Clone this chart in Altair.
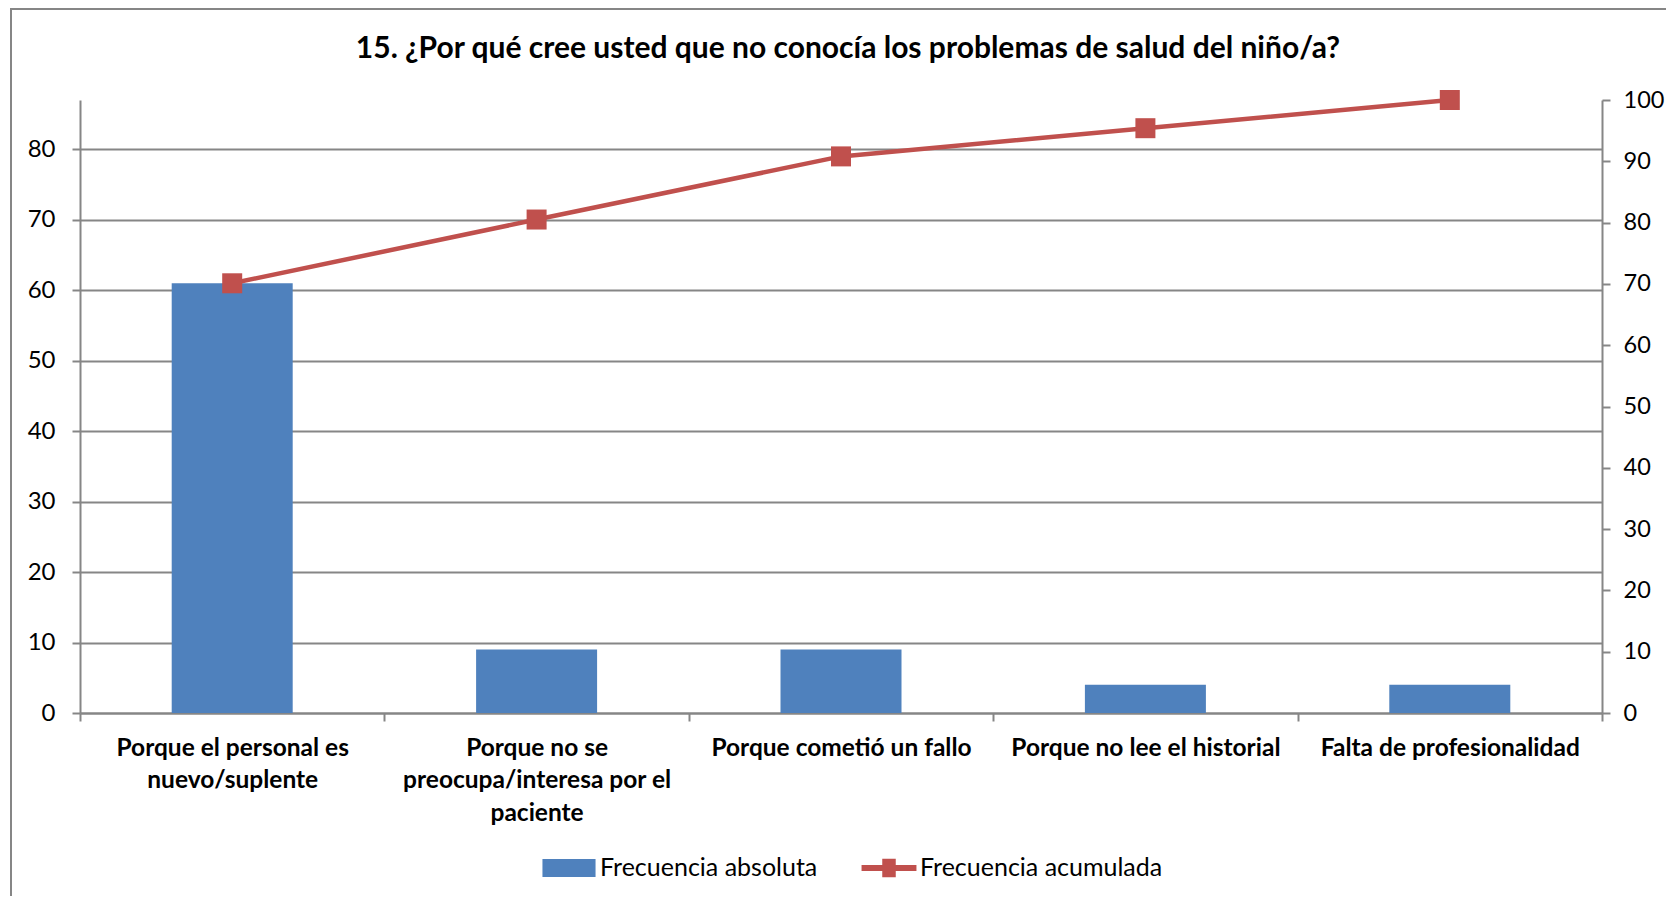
import altair as alt
import pandas as pd

# ---- data ----
categorias = [
    "Porque el personal es\nnuevo/suplente",
    "Porque no se\npreocupa/interesa por el\npaciente",
    "Porque cometió un fallo",
    "Porque no lee el historial",
    "Falta de profesionalidad",
]
frecuencia_absoluta = [61, 9, 9, 4, 4]
frecuencia_acumulada = [70.1, 80.5, 90.8, 95.4, 100.0]
series = ["Frecuencia absoluta", "Frecuencia acumulada"]
ticks_izq = [0, 10, 20, 30, 40, 50, 60, 70, 80]
ticks_der = [0, 10, 20, 30, 40, 50, 60, 70, 80, 90, 100]
titulo = "15. ¿Por qué cree usted que no conocía los problemas de salud del niño/a?"

AZUL = "#4F81BD"
ROJO = "#C0504D"
GRIS = "#868686"
FONT = "Lato"

df = pd.DataFrame({
    "categoria": categorias,
    "absoluta": frecuencia_absoluta,
    "acumulada": frecuencia_acumulada,
})

x = alt.X(
    "categoria:N",
    sort=categorias,
    scale=alt.Scale(paddingInner=0, paddingOuter=0),
    axis=alt.Axis(
        title=None,
        labelAngle=0,
        labelExpr="split(datum.label, '\\n')",
        labelFont=FONT,
        labelFontSize=24.5,
        labelFontWeight="bold",
        labelColor="black",
        labelLineHeight=32.5,
        labelLimit=400,
        labelOverlap=False,
        labelPadding=15,
        tickBand="extent",
        tickSize=8,
        tickWidth=2,
        tickColor=GRIS,
        domainColor=GRIS,
        domainWidth=2,
        grid=False,
    ),
)

bars = alt.Chart(df).mark_bar(color=AZUL, size=121).encode(
    x=x,
    y=alt.Y(
        "absoluta:Q",
        scale=alt.Scale(domain=[0, 87], nice=False),
        axis=alt.Axis(
            title=None,
            values=ticks_izq,
            grid=True,
            gridColor=GRIS,
            gridWidth=2,
            domainColor=GRIS,
            domainWidth=2,
            tickColor=GRIS,
            tickWidth=2,
            tickSize=8,
            labelPadding=17,
            labelFont=FONT,
            labelFontSize=24,
            labelColor="black",
        ),
    ),
)

y_der = alt.Y(
    "acumulada:Q",
    scale=alt.Scale(domain=[0, 100], nice=False),
    axis=alt.Axis(
        title=None,
        orient="right",
        values=ticks_der,
        grid=False,
        domainColor=GRIS,
        domainWidth=2,
        tickColor=GRIS,
        tickWidth=2,
        tickSize=8,
        labelPadding=13,
        labelFont=FONT,
        labelFontSize=23.5,
        labelColor="black",
    ),
)

base = alt.Chart(df)
linea = base.mark_line(color=ROJO, strokeWidth=4.5).encode(x=x, y=y_der)
puntos = base.mark_point(shape="square", filled=True, size=400, color=ROJO, opacity=1).encode(x=x, y=y_der)

rect_path = "M-1.77,-0.6H1.77V0.6H-1.77Z"
linea_path = "M-1.83,-0.2H1.83V0.2H-1.83Z M-0.45,-0.62H0.45V0.62H-0.45Z"

leg = alt.Legend(
    title=None,
    orient="none",
    direction="horizontal",
    legendX=474,
    legendY=753,
    symbolSize=900,
    symbolStrokeWidth=0,
    symbolOpacity=1,
    labelFont=FONT,
    labelFontSize=25,
    labelColor="black",
    labelOffset=16,
    columnPadding=43,
    labelLimit=400,
)

leyenda = base.transform_calculate(serie="'Frecuencia acumulada'").mark_point(
    filled=True, size=900
).encode(
    x=x,
    y=y_der,
    opacity=alt.value(0),
    color=alt.Color(
        "serie:N",
        scale=alt.Scale(domain=series, range=[AZUL, ROJO]),
        legend=leg,
    ),
    shape=alt.Shape(
        "serie:N",
        scale=alt.Scale(domain=series, range=[rect_path, linea_path]),
        legend=leg,
    ),
)

derecha = alt.layer(linea, puntos, leyenda)

# chart frame (decoration: the outer border of the chart area)
marco_df = pd.DataFrame({"k": [0]})
marco_sup = alt.Chart(marco_df).mark_rule(color=GRIS, strokeWidth=2).encode(
    x=alt.value(-69), x2=alt.value(1586), y=alt.value(-91)
)
marco_izq = alt.Chart(marco_df).mark_rule(color=GRIS, strokeWidth=2).encode(
    x=alt.value(-69), y=alt.value(-92), y2=alt.value(796)
)

chart = alt.layer(bars, derecha, marco_sup, marco_izq).resolve_scale(y="independent").properties(
    width=1522,
    height=613,
    background="white",
    autosize=alt.AutoSizeParams(type="none"),
    padding={"left": 72, "top": 92, "right": 64, "bottom": 183},
    title=alt.TitleParams(
        titulo,
        font=FONT,
        fontSize=30,
        fontWeight="bold",
        color="black",
        anchor="middle",
        offset=-57,
        dx=7,
    ),
).configure_view(stroke=None)

chart.save("out.html", embed_options={"renderer": "svg", "actions": False})
